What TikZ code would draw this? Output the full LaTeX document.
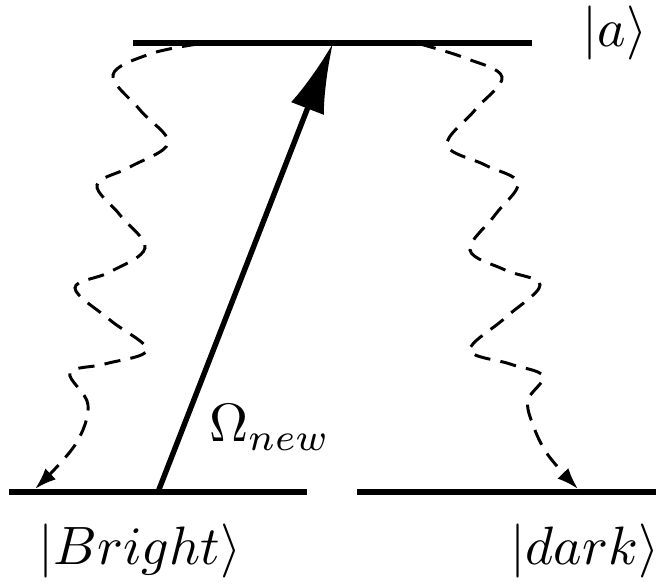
\documentclass[tikz,border=0pt]{standalone}
\usetikzlibrary{arrows.meta}

\begin{document}
\begin{tikzpicture}[
	x=0.185pt, y=-0.185pt,
	% Styles for the levels and the transitions
	level/.style={line width=1pt},
	pump/.style={line width=1pt, -{Latex[length=13pt, width=6.5pt]}},
	decay/.style={line width=0.55pt, dash pattern=on 3pt off 1.9pt, -{Latex[length=4pt, width=2.8pt]}},
	statelabel/.style={inner sep=0pt}
	]
	\useasboundingbox (0,0) rectangle (657,586);
	
	% ==========================================
	% 1. ENERGY LEVELS
	% ==========================================
	% Upper level |a>
	\coordinate (aL) at (133, 43);
	\coordinate (aR) at (532, 43);
	\draw[level] (aL) -- (aR);
	\node[statelabel] (alabel) at (615, 33) {$|a\rangle$};
	
	% Lower level |Bright>
	\coordinate (bL) at (9, 492);
	\coordinate (bR) at (307, 492);
	\draw[level] (bL) -- (bR);
	\node[statelabel] (blabel) at (140, 551) {$|Bright\rangle$};
	
	% Lower level |dark>
	\coordinate (dL) at (357, 492);
	\coordinate (dR) at (656, 492);
	\draw[level] (dL) -- (dR);
	\node[statelabel] (dlabel) at (585, 551) {$|dark\rangle$};
	
	% ==========================================
	% 2. COUPLING FIELD
	% ==========================================
	\coordinate (pumpfoot) at (158, 492);
	\coordinate (pumptip) at (333, 43);
	\draw[pump] (pumpfoot) -- (pumptip);
	\node[anchor=base west, inner sep=0pt] (omega) at (208, 442) {$\Omega_{new}$};
	
	% ==========================================
	% 3. SPONTANEOUS DECAY (wavy, dashed)
	% ==========================================
	\coordinate (decayLtop) at (198, 44);
	\coordinate (decayLend) at (35, 489);
	\draw[decay] plot[smooth, tension=0.6] coordinates {(decayLtop) (150, 54) (113, 75) (140, 110) (168, 143) (130, 167)
		(97, 185) (120, 215) (145, 248) (110, 272) (75, 288) (110, 320) (147, 350) (105, 364)
		(70, 373) (88, 405) (75, 445) (decayLend)};
	
	\coordinate (decayRtop) at (420, 44);
	\coordinate (decayRend) at (578, 489);
	\draw[decay] plot[smooth, tension=0.6] coordinates {(decayRtop) (465, 58) (502, 77) (475, 110) (447, 145) (485, 165)
		(518, 183) (495, 215) (470, 250) (505, 270) (540, 285) (505, 318) (470, 350) (510, 364)
		(543, 376) (528, 400) (533, 425) (548, 455) (decayRend)};
\end{tikzpicture}
\end{document}
